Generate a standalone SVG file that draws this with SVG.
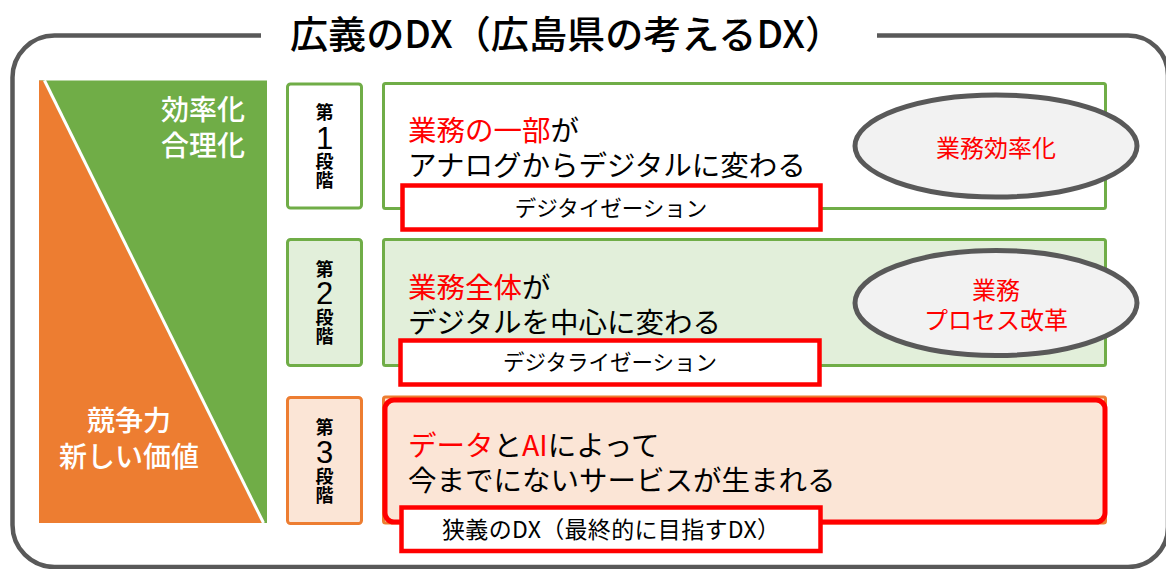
<svg xmlns="http://www.w3.org/2000/svg" width="1166" height="569" viewBox="0 0 1166 569">
<style>
  text { font-family: "Noto Sans CJK JP", "Noto Sans", "Liberation Sans", sans-serif; }
  .title { font-size: 38px; font-weight: 500; fill: #000; }
  .frame { fill: none; stroke: #595959; stroke-width: 4.5; }
  .side { font-size: 28px; fill: #fff; font-weight: 500; }
  .stage-g { stroke: #70AD47; stroke-width: 3; }
  .stage-o { stroke: #ED7D31; stroke-width: 3; }
  .kan { font-size: 18px; font-weight: bold; fill: #000; text-anchor: middle; }
  .num { font-family: "Liberation Sans", "Noto Sans", sans-serif; font-size: 31px; fill: #000; text-anchor: middle; }
  .main { font-size: 28.5px; fill: #000; }
  .red { fill: #FF0000; }
  .label-box { fill: #fff; stroke: #FF0000; stroke-width: 4.5; }
  .label { font-size: 21.5px; fill: #000; text-anchor: middle; }
  .ell { fill: #F2F2F2; stroke: #595959; stroke-width: 5; }
  .ell-t { font-size: 24px; fill: #FF0000; text-anchor: middle; }
</style>

<!-- outer frame with title gap -->
<g id="frame">
  <path class="frame" d="M 261 35.5 H 54.5 A 42 42 0 0 0 12.5 77.5 V 525 A 42 42 0 0 0 54.5 567 H 1128 A 40 40 0 0 0 1168 527 V 75.5 A 40 40 0 0 0 1128 35.5 H 877"/>
  <text class="title" x="290" y="48" textLength="553" lengthAdjust="spacingAndGlyphs">広義のDX（広島県の考えるDX）</text>
</g>

<!-- left triangle panel -->
<g id="side-panel">
  <rect x="39" y="80.5" width="228" height="442.5" fill="#70AD47"/>
  <polygon points="39,80.5 43,80.5 262,523 39,523" fill="#ED7D31"/>
  <line x1="44.5" y1="80.5" x2="263.5" y2="523" stroke="#fff" stroke-width="3"/>
  <text class="side" x="245" y="120" text-anchor="end">効率化</text>
  <text class="side" x="245" y="156" text-anchor="end">合理化</text>
  <text class="side" x="129" y="431" text-anchor="middle">競争力</text>
  <text class="side" x="129" y="467" text-anchor="middle">新しい価値</text>
</g>

<!-- stage 1 -->
<g id="stage1-label">
  <rect class="stage-g" x="287.5" y="84" width="74" height="124" rx="3" fill="#fff"/>
  <text class="kan" x="324.5" y="119">第</text>
  <text class="num" x="324.5" y="148.5">1</text>
  <text class="kan" x="324.5" y="168">段</text>
  <text class="kan" x="324.5" y="187">階</text>
</g>
<g id="stage1">
  <rect class="stage-g" x="383.5" y="83.5" width="722" height="125" rx="2" fill="#fff"/>
  <text class="main" x="408" y="141"><tspan class="red">業務の一部</tspan>が</text>
  <text class="main" x="408" y="176">アナログからデジタルに変わる</text>
</g>
<g id="stage1-tag">
  <rect class="label-box" x="402.5" y="185.5" width="418" height="44"/>
  <text class="label" x="611" y="215.5">デジタイゼーション</text>
</g>
<g id="stage1-goal">
  <ellipse class="ell" cx="996" cy="146" rx="141" ry="51"/>
  <text class="ell-t" x="996" y="156.5">業務効率化</text>
</g>

<!-- stage 2 -->
<g id="stage2-label">
  <rect class="stage-g" x="287.5" y="239.5" width="74" height="126" rx="3" fill="#E2EFDA"/>
  <text class="kan" x="324.5" y="276">第</text>
  <text class="num" x="324.5" y="303.5">2</text>
  <text class="kan" x="324.5" y="324">段</text>
  <text class="kan" x="324.5" y="343">階</text>
</g>
<g id="stage2">
  <rect class="stage-g" x="383.5" y="239.5" width="722" height="126" rx="2" fill="#E2EFDA"/>
  <text class="main" x="408" y="298"><tspan class="red">業務全体</tspan>が</text>
  <text class="main" x="408" y="333">デジタルを中心に変わる</text>
</g>
<g id="stage2-tag">
  <rect class="label-box" x="400.5" y="340.5" width="419" height="44"/>
  <text class="label" x="610" y="370">デジタライゼーション</text>
</g>
<g id="stage2-goal">
  <ellipse class="ell" cx="996" cy="303" rx="141" ry="52.5"/>
  <text class="ell-t" x="996" y="299">業務</text>
  <text class="ell-t" x="996" y="329">プロセス改革</text>
</g>

<!-- stage 3 -->
<g id="stage3-label">
  <rect class="stage-o" x="287.5" y="397.5" width="74" height="126" rx="3" fill="#FBE5D6"/>
  <text class="kan" x="324.5" y="434">第</text>
  <text class="num" x="324.5" y="463">3</text>
  <text class="kan" x="324.5" y="483">段</text>
  <text class="kan" x="324.5" y="502">階</text>
</g>
<g id="stage3">
  <rect class="stage-o" x="383.5" y="397" width="722" height="126" rx="2" fill="#FBE5D6"/>
  <rect x="385" y="400" width="720" height="122" rx="9" fill="#FBE5D6" stroke="#FF0000" stroke-width="5"/>
  <text class="main" x="408" y="456"><tspan class="red">データ</tspan>と<tspan class="red">AI</tspan>によって</text>
  <text class="main" x="408" y="491">今までにないサービスが生まれる</text>
</g>
<g id="stage3-tag">
  <rect class="label-box" x="401.5" y="507.5" width="419" height="43.5"/>
  <text class="label" x="611" y="538" style="font-size:23px" textLength="338" lengthAdjust="spacing">狭義のDX（最終的に目指すDX）</text>
</g>
</svg>
